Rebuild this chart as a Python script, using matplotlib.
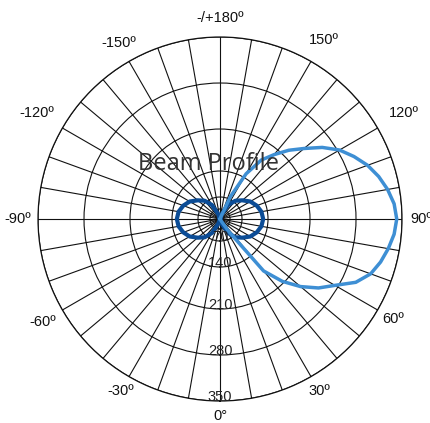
import numpy as np
import matplotlib
matplotlib.use('Agg')
import matplotlib.pyplot as plt

# Angles in degrees (0 at the bottom, counter-clockwise)
light_theta = [20, 30, 35, 40, 45, 50, 55, 60, 65, 70, 75, 80, 85, 90,
               95, 100, 105, 110, 115, 120, 125, 130, 135, 140, 145, 150, 155, 160, 170]
light_r = [0, 7, 50, 173, 207, 233, 256, 275, 301, 317, 326, 333, 339, 342,
           339, 332, 323, 312, 298, 283, 263, 240, 221, 200, 180, 147, 78, 7, 0]

dark_theta = list(range(0, 361, 10))
dark_half = [0, 0, 18, 53, 75, 89, 105, 116, 124, 127, 124, 116, 105, 89, 75, 53, 18, 0, 0]
dark_r = dark_half + dark_half[-2::-1]

radial_ticks = [35, 70, 140, 210, 280, 350]
radial_labels = ['', '70', '140', '210', '280', '350']
angle_ticks = [0, 30, 60, 90, 120, 150, 180, 210, 240, 270, 300, 330]
angle_labels = ['0°', '30º', '60º', '90º', '120º', '150º',
                '-/+180º', '-150º', '-120º', '-90º', '-60º', '-30º']

# Non-linear radial axis read off the grid circles
scale_vals = np.array([0, 35, 70, 140, 210, 280, 350], dtype=float)
scale_pos = np.array([0, 10, 22, 48, 90, 136, 182], dtype=float)


def fwd(v):
    return np.interp(v, scale_vals, scale_pos)


def inv(p):
    return np.interp(p, scale_pos, scale_vals)


fig = plt.figure(figsize=(4.30, 4.23), dpi=100)
ax = fig.add_axes([0.0884, 0.052, 0.8465, 0.8605], projection='polar')
ax.set_theta_zero_location('S')
ax.set_theta_direction(1)
ax.set_rscale('function', functions=(fwd, inv))
ax.set_rlim(0, 350)

ax.plot(np.radians(dark_theta), dark_r, color='#0b4c96', lw=3.0, zorder=3)
ax.plot(np.radians(light_theta), light_r, color='#3e8fd4', lw=2.5, zorder=3)

# Grid
ax.set_rticks(radial_ticks)
ax.set_yticklabels([])
ax.set_thetagrids(list(range(0, 360, 10)), [''] * 36)
ax.grid(True, color='#111111', lw=0.8)
ax.spines['polar'].set_color('#111111')
ax.spines['polar'].set_linewidth(0.9)

# Angle labels just outside the rim (extra gap in pixels, from the reference)
label_gap = [15, 17, 18, 19, 30, 25, 19, 21, 30, 20, 23, 17]
for t, lab, gap in zip(angle_ticks, angle_labels, label_gap):
    a = np.radians(t)
    off = gap * 0.72
    ax.annotate(lab, xy=(a, 350), xytext=(off * np.sin(a), -off * np.cos(a)),
                textcoords='offset points', ha='center', va='center',
                fontsize=10.5, family='Liberation Sans', color='#111111',
                annotation_clip=False)

for v, lab in zip(radial_ticks, radial_labels):
    if lab:
        ax.annotate(lab, xy=(0, v), xytext=(0, 3), textcoords='offset points',
                    ha='center', va='center', fontsize=10.5, family='Liberation Sans',
                    color='#222222', zorder=4)

fig.text(0.486, 0.612, 'Beam Profile', ha='center', va='center', fontsize=17,
         family='Open Sans', color='#333333', zorder=5)

fig.savefig('out.png', dpi=100)
